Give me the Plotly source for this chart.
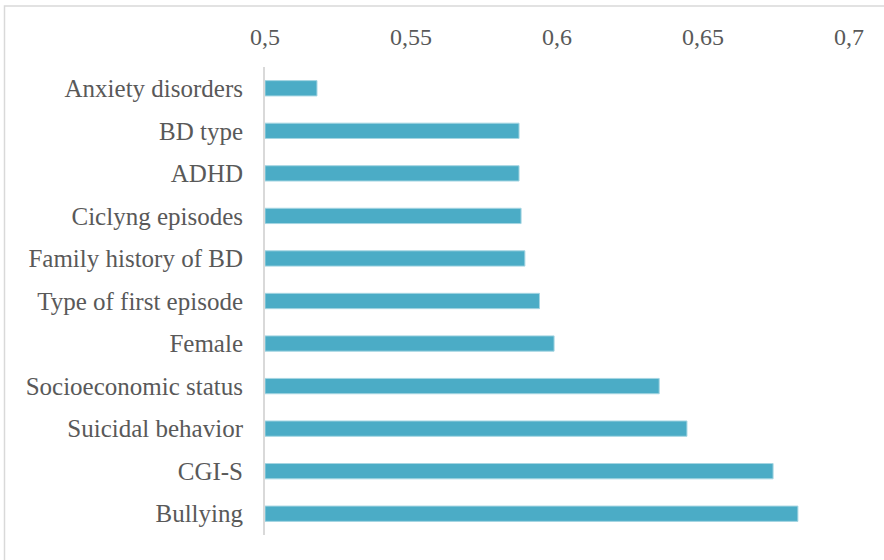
import plotly.graph_objects as go

categories = ["Anxiety disorders", "BD type", "ADHD", "Ciclyng episodes",
              "Family history of BD", "Type of first episode", "Female",
              "Socioeconomic status", "Suicidal behavior", "CGI-S", "Bullying"]
values = [0.5178, 0.587, 0.587, 0.5877, 0.589, 0.594, 0.599,
          0.635, 0.6445, 0.674, 0.6825]
tick_vals = [0.5, 0.55, 0.6, 0.65, 0.7]
tick_text = ["0,5", "0,55", "0,6", "0,65", "0,7"]

W, H = 884, 560
ml, mr, mt, mb = 265, 35, 67, 25
pw, ph = W - ml - mr, H - mt - mb

fig = go.Figure(go.Bar(
    x=[v - 0.5 for v in values], base=0.5, y=categories, orientation="h",
    marker=dict(color="#4BACC6", line=dict(color="#A5D5E2", width=1)),
    width=0.36,
))

ytick_font = dict(family="Liberation Serif", size=25, color="#595959")
xtick_font = dict(family="Liberation Serif", size=24, color="#595959")
fig.update_layout(
    width=W, height=H, margin=dict(l=ml, r=mr, t=mt, b=mb),
    plot_bgcolor="white", paper_bgcolor="white", showlegend=False,
    font=ytick_font,
    xaxis=dict(side="top", range=[0.5, 0.7], tickvals=tick_vals, ticktext=tick_text,
               showgrid=False, zeroline=False, showline=False, ticks="",
               tickfont=xtick_font, ticklabelstandoff=16),
    yaxis=dict(categoryorder="array", categoryarray=categories, autorange="reversed",
               showline=True, linecolor="#D9D9D9", linewidth=2, ticks="",
               showgrid=False, tickfont=ytick_font, ticklabelstandoff=15),
    shapes=[dict(type="rect", xref="paper", yref="paper",
                 x0=(4.5 - ml) / pw, x1=1.2, y0=-0.2, y1=1 + (mt - 6) / ph,
                 line=dict(color="#D9D9D9", width=1.5), layer="below")],
)
fig.write_html("out.html")
